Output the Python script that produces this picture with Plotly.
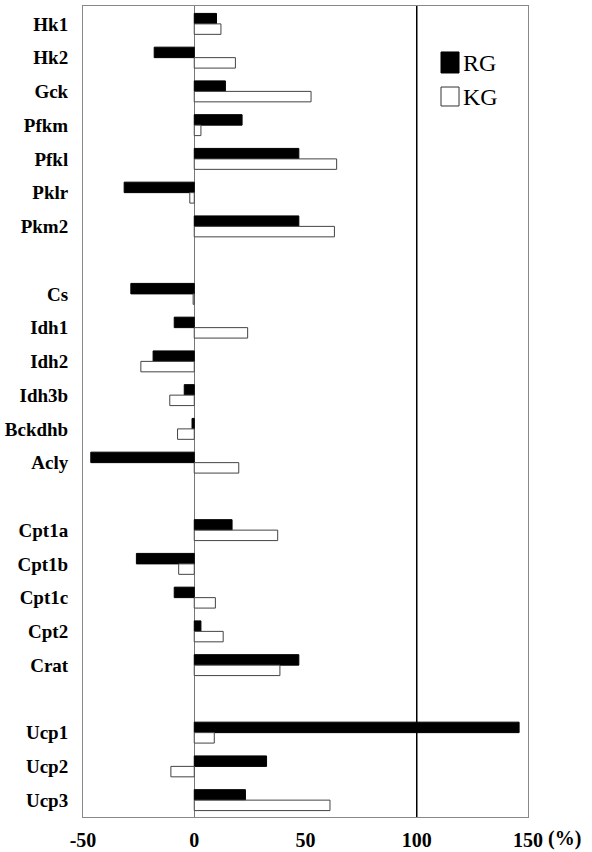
import plotly.graph_objects as go

# Gene groups (a blank slot separates groups)
groups = [
    ["Hk1", "Hk2", "Gck", "Pfkm", "Pfkl", "Pklr", "Pkm2"],
    ["Cs", "Idh1", "Idh2", "Idh3b", "Bckdhb", "Acly"],
    ["Cpt1a", "Cpt1b", "Cpt1c", "Cpt2", "Crat"],
    ["Ucp1", "Ucp2", "Ucp3"],
]

# Percent change values
rg_values = [10, -18, 14, 21.5, 47, -31.5, 47,
             -28.5, -9, -18.5, -4.5, -1, -46.5,
             17, -26, -9, 3, 47,
             146, 32.5, 23]
kg_values = [12, 18.5, 52.5, 3, 64, -2, 63,
             -0.5, 24, -24, -11, -7.5, 20,
             37.5, -7, 9.5, 13, 38.5,
             9, -10.5, 61]

series_names = ["RG", "KG"]
x_ticks = [-50, 0, 50, 100, 150]
reference_pct = 100

categories = []
positions = []
pos = 0
for grp in groups:
    for name in grp:
        categories.append(name)
        positions.append(pos)
        pos += 1
    pos += 1  # blank slot between groups
last_pos = positions[-1]

serif = "Liberation Serif, Times New Roman, serif"

fig = go.Figure()
fig.add_trace(go.Bar(
    name=series_names[0], y=positions, x=rg_values, orientation="h",
    marker=dict(color="black", line=dict(color="black", width=1)),
    showlegend=False,
))
fig.add_trace(go.Bar(
    name=series_names[1], y=positions, x=kg_values, orientation="h",
    marker=dict(color="white", line=dict(color="#444444", width=1)),
    showlegend=False,
))

# reference line at 100 %
fig.add_shape(type="line", xref="x", yref="paper",
              x0=reference_pct, x1=reference_pct, y0=0, y1=1,
              line=dict(color="black", width=1.5))

# legend keys (drawn as boxes, like the original)
legend_keys = [("black", "black", 0.9433, 0.9174, 0.9297),
               ("white", "#333333", 0.9001, 0.8767, 0.8884)]
for (fill, edge, ytop, ybot, ytext), name in zip(legend_keys, series_names):
    fig.add_shape(type="rect", xref="paper", yref="paper",
                  x0=0.8045, x1=0.845, y0=ybot, y1=ytop,
                  fillcolor=fill, line=dict(color=edge, width=1))
    fig.add_annotation(text=name, xref="paper", yref="paper",
                       x=0.849, y=ytext, xanchor="left", yanchor="middle",
                       showarrow=False,
                       font=dict(family=serif, size=24, color="black"))

fig.add_annotation(text="<b>(%)</b>", xref="paper", yref="paper",
                   x=1.041, y=0, yshift=-21, xanchor="left", yanchor="middle",
                   showarrow=False, font=dict(family=serif, size=20, color="black"))

fig.update_layout(
    width=592, height=852,
    margin=dict(l=83, r=64, t=6, b=35),
    paper_bgcolor="white", plot_bgcolor="white",
    barmode="group", bargap=0.38, bargroupgap=0,
    font=dict(family=serif, color="black"),
    showlegend=False,
)

fig.update_xaxes(
    range=[-50, 150], tickvals=x_ticks,
    ticktext=[f"<b>{v}</b>" for v in x_ticks],
    tickfont=dict(family=serif, size=20, color="black"),
    showgrid=False, zeroline=True, zerolinecolor="#777777", zerolinewidth=1,
    showline=True, linecolor="#888888", linewidth=1, mirror=True,
    ticks="", ticklabelstandoff=5, automargin=False,
)
fig.update_yaxes(
    range=[last_pos + 0.5, -0.53], tickvals=positions,
    ticktext=[f"<b>{c}</b>" for c in categories],
    tickfont=dict(family=serif, size=19, color="black"),
    showgrid=False, zeroline=False,
    showline=True, linecolor="#888888", linewidth=1, mirror=True,
    ticks="", ticklabelstandoff=10, automargin=False,
)

fig.write_html(
    "out.html",
    config={"displayModeBar": False},
    post_script="document.body.style.margin='0';document.body.style.overflow='hidden';",
)
